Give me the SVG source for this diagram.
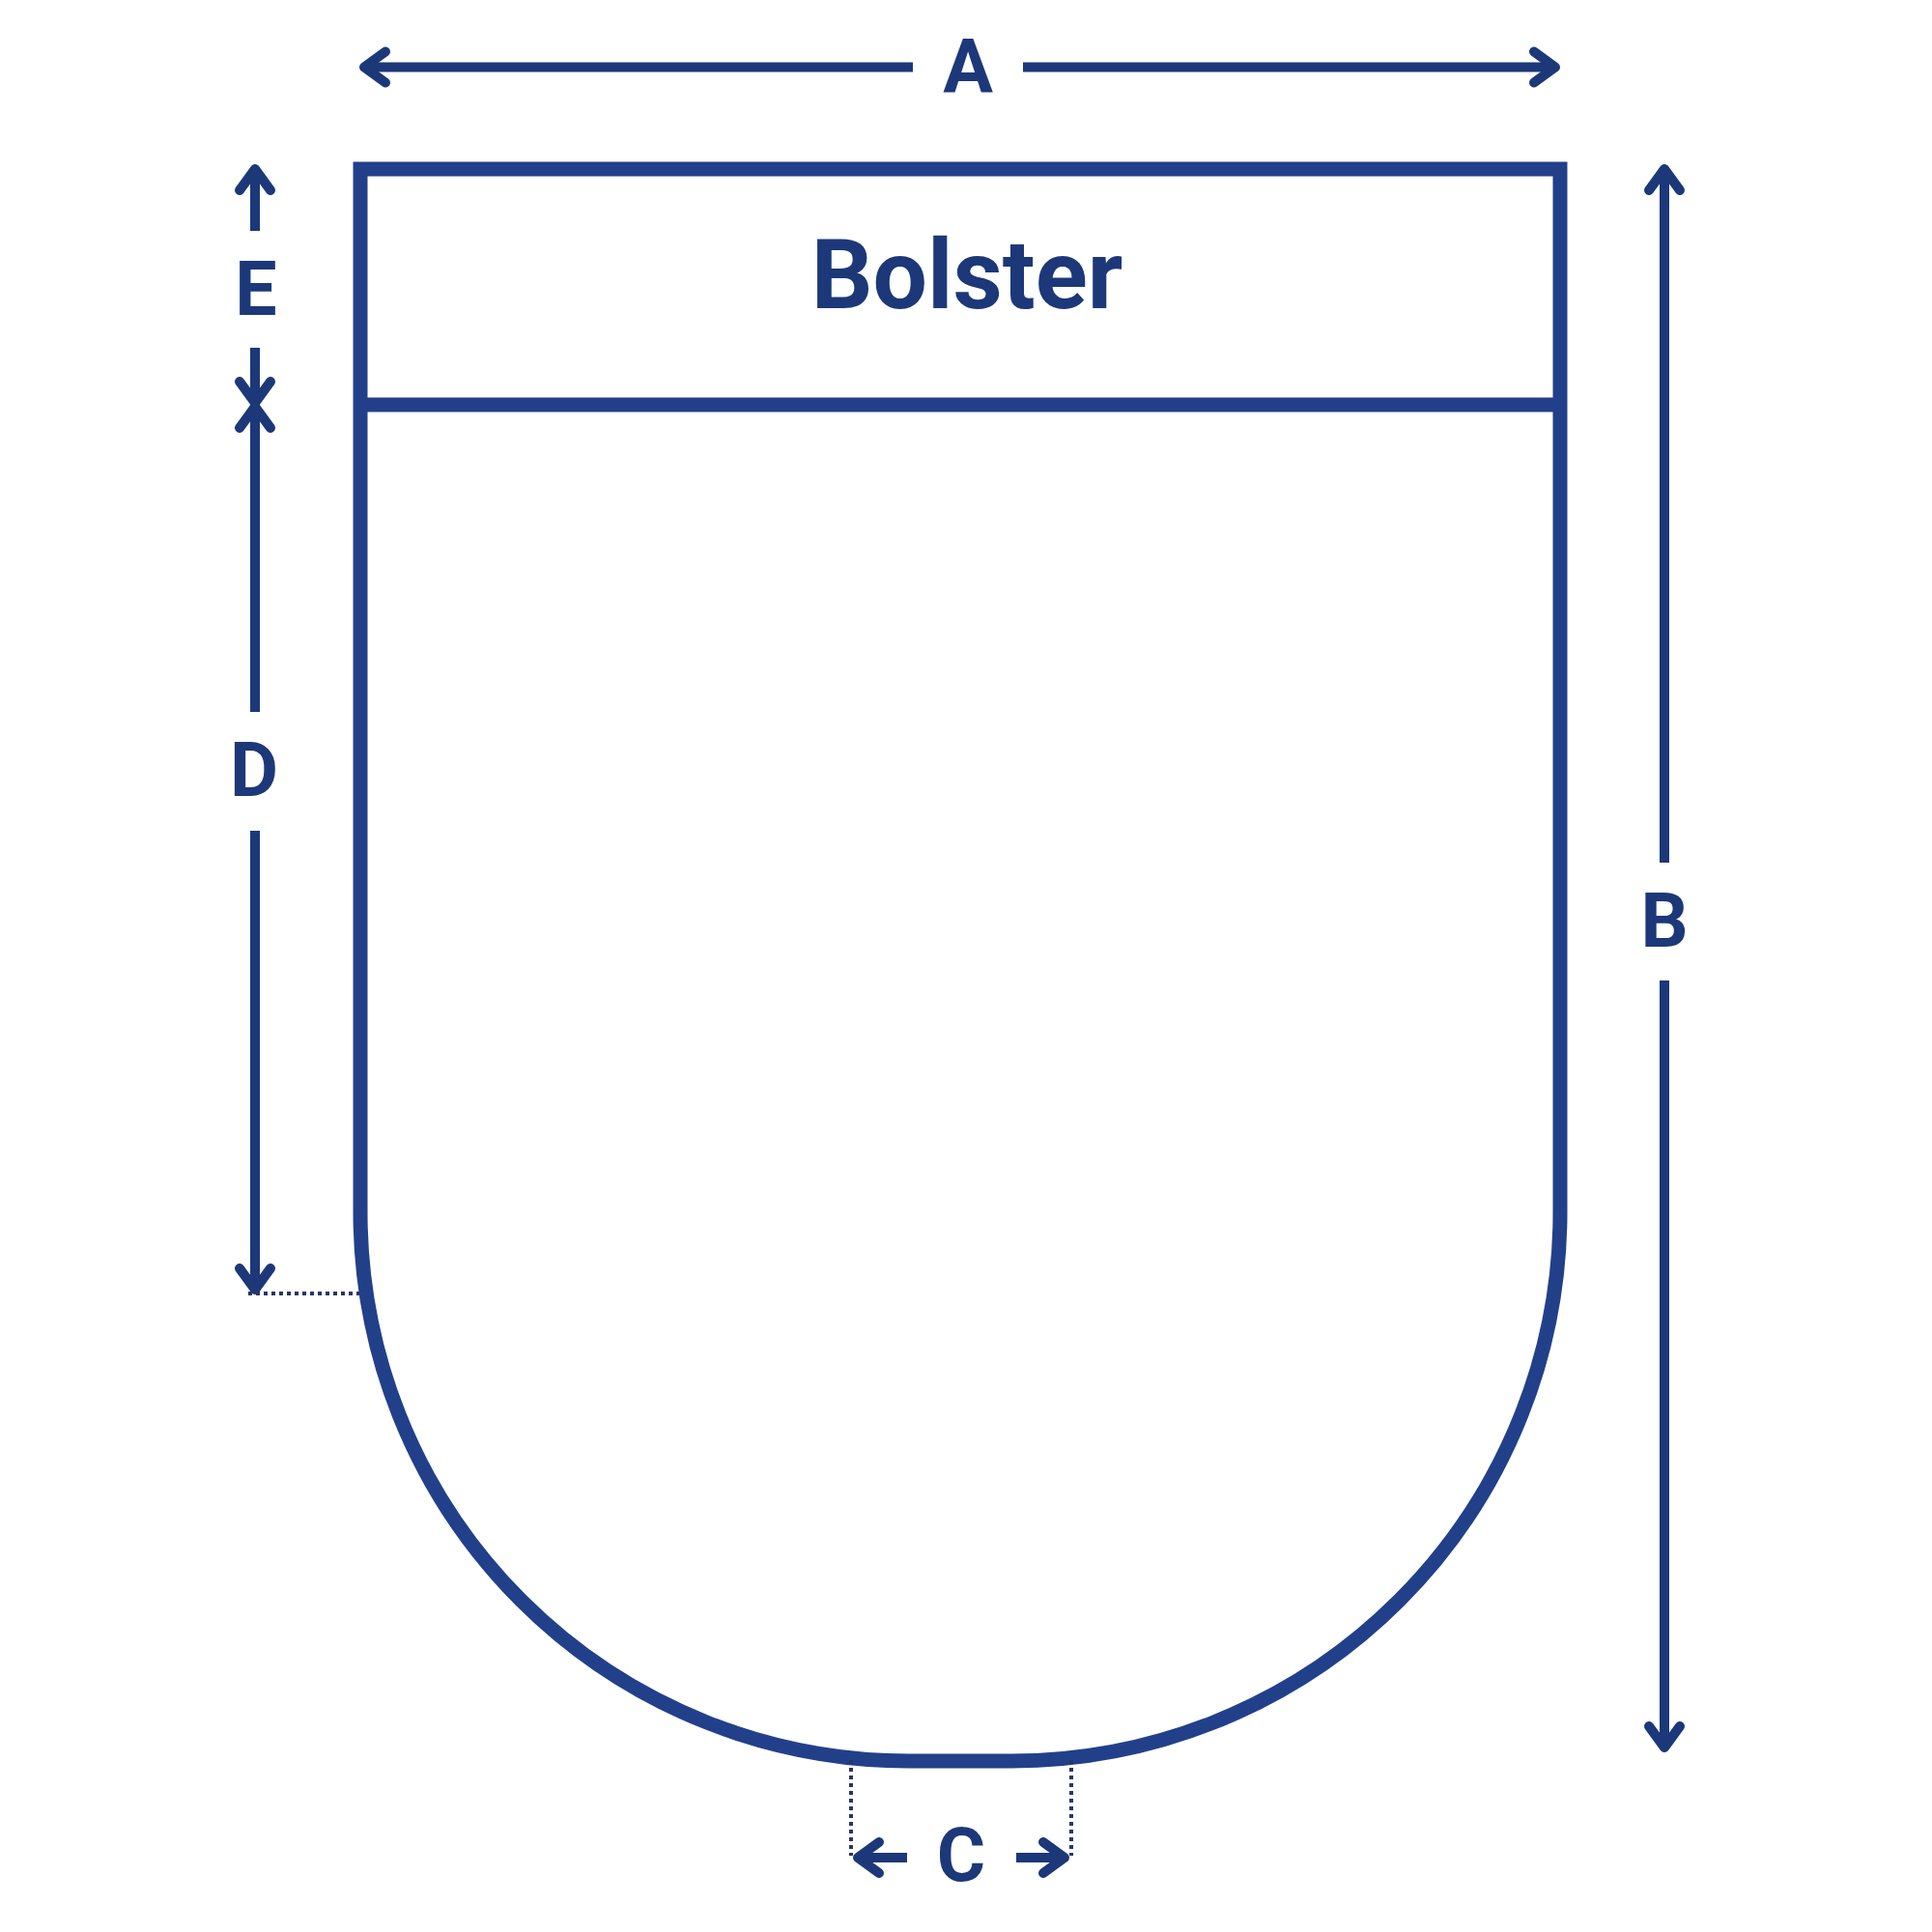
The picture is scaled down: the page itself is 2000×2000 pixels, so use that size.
<svg xmlns="http://www.w3.org/2000/svg" width="2000" height="2000" viewBox="0 0 2000 2000">
<style>
.shape{fill:none;stroke:#22408a;stroke-width:15;stroke-linejoin:miter}
.dim{fill:none;stroke:#1c3879;stroke-width:10;stroke-linecap:butt}
.head{fill:none;stroke:#1c3879;stroke-width:10;stroke-linecap:round;stroke-linejoin:round}
.dot{fill:none;stroke:#2a3563;stroke-width:4;stroke-dasharray:4 4}
.lbl{font-family:Roboto,"Liberation Sans",sans-serif;font-weight:bold;font-size:77px;fill:#1c3879;text-anchor:middle}
.title{font-family:Roboto,"Liberation Sans",sans-serif;font-weight:bold;font-size:100px;fill:#1c3879;text-anchor:middle}
</style>
<rect width="2000" height="2000" fill="#ffffff"/>
<g id="mattress">
<path class="shape" d="M373 175 H1615 V1255 A568 568 0 0 1 1047 1823 H941 A568 568 0 0 1 373 1255 Z"/>
</g>
<g id="bolster">
<line class="shape" x1="373" y1="419" x2="1615" y2="419"/>
<text class="title" x="1001" y="319">Bolster</text>
</g>
<g id="connectors">
<!-- A -->
<line class="dim" x1="377" y1="69.5" x2="945" y2="69.5"/>
<line class="dim" x1="1059" y1="69.5" x2="1610" y2="69.5"/>
<polyline class="head" points="399,53.5 377,69.5 399,85.5"/>
<polyline class="head" points="1588,53.5 1610,69.5 1588,85.5"/>
<!-- E -->
<line class="dim" x1="264" y1="175" x2="264" y2="239"/>
<line class="dim" x1="264" y1="360" x2="264" y2="417"/>
<polyline class="head" points="248,197 264,175 280,197"/>
<polyline class="head" points="248,395 264,417 280,395"/>
<!-- D -->
<line class="dim" x1="264" y1="421" x2="264" y2="737"/>
<line class="dim" x1="264" y1="860" x2="264" y2="1335"/>
<polyline class="head" points="248,443 264,421 280,443"/>
<polyline class="head" points="248,1313 264,1335 280,1313"/>
<line class="dot" x1="257" y1="1339" x2="372" y2="1339"/>
<!-- B -->
<line class="dim" x1="1723" y1="175" x2="1723" y2="893"/>
<line class="dim" x1="1723" y1="1015" x2="1723" y2="1809"/>
<polyline class="head" points="1707,197 1723,175 1739,197"/>
<polyline class="head" points="1707,1787 1723,1809 1739,1787"/>
<!-- C -->
<line class="dim" x1="888" y1="1923" x2="939" y2="1923"/>
<line class="dim" x1="1052" y1="1923" x2="1102" y2="1923"/>
<polyline class="head" points="910,1907 888,1923 910,1939"/>
<polyline class="head" points="1080,1907 1102,1923 1080,1939"/>
<line class="dot" x1="881" y1="1822" x2="881" y2="1921"/>
<line class="dot" x1="1109" y1="1822" x2="1109" y2="1921"/>
</g>
<g id="labels">
<text class="lbl" x="1002" y="96">A</text>
<text class="lbl" x="265" y="326">E</text>
<text class="lbl" x="263" y="824">D</text>
<text class="lbl" x="1723" y="980">B</text>
<text class="lbl" x="995" y="1947">C</text>
</g>
</svg>
